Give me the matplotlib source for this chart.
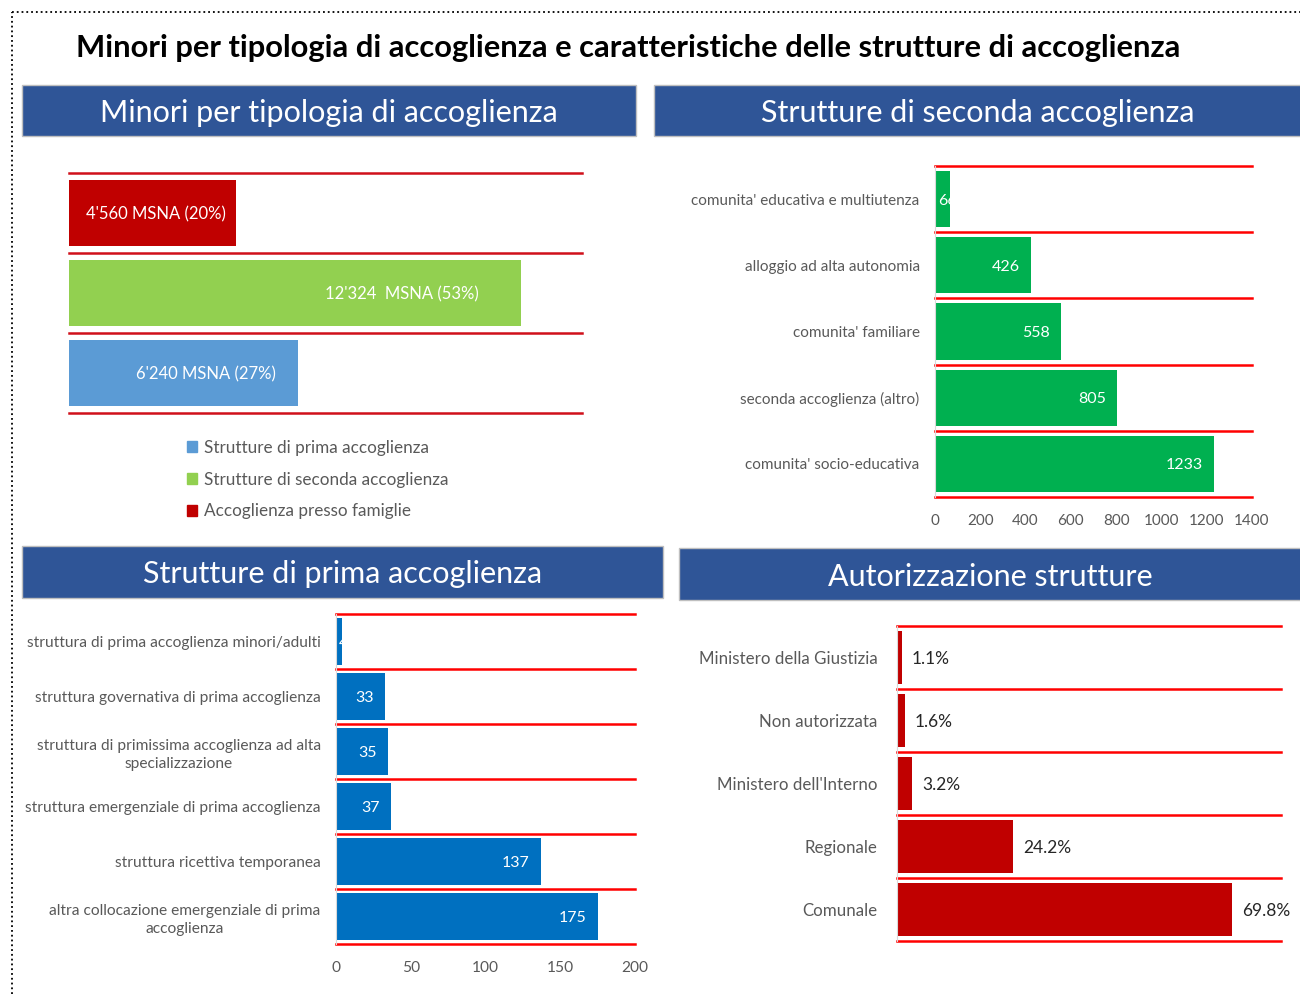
import matplotlib.pyplot as plt
from matplotlib.patches import Rectangle
from matplotlib.lines import Line2D

plt.rcParams['font.family'] = ['Lato', 'DejaVu Sans']

W, H = 1300, 994

# --- data ---
tipologia = ['Accoglienza presso famiglie', 'Strutture di seconda accoglienza',
             'Strutture di prima accoglienza']
tipologia_val = [4560, 12324, 6240]
tipologia_lab = ["4'560 MSNA (20%)", "12'324  MSNA (53%)", "6'240 MSNA (27%)"]

seconda_cat = ["comunita' educativa e multiutenza", 'alloggio ad alta autonomia',
               "comunita' familiare", 'seconda accoglienza (altro)',
               "comunita' socio-educativa"]
seconda_val = [66, 426, 558, 805, 1233]

prima_cat = ['struttura di prima accoglienza minori/adulti',
             'struttura governativa di prima accoglienza',
             'struttura di primissima accoglienza ad alta\nspecializzazione',
             'struttura emergenziale di prima accoglienza',
             'struttura ricettiva temporanea',
             'altra collocazione emergenziale di prima\naccoglienza']
prima_val = [4, 33, 35, 37, 137, 175]

autoriz_cat = ['Ministero della Giustizia', 'Non autorizzata',
               "Ministero dell'Interno", 'Regionale', 'Comunale']
autoriz_val = [1.1, 1.6, 3.2, 24.2, 69.8]

GRAY = '#595959'
HEAD = '#2F5597'


def rect(x0, y0, x1, y1):
    return [x0 / W, 1 - y1 / H, (x1 - x0) / W, (y1 - y0) / H]


def header(x0, y0, x1, y1, text):
    fig.add_artist(Rectangle((x0 / W, 1 - y1 / H), (x1 - x0) / W, (y1 - y0) / H,
                             transform=fig.transFigure, facecolor=HEAD,
                             edgecolor='#BFBFBF', linewidth=1))
    fig.text((x0 + x1) / 2 / W, 1 - (y0 + y1) / 2 / H, text, color='white',
             fontsize=22, ha='center', va='center_baseline')


def style_barh(ax, n, gridcolor='#FF0000'):
    ax.set_ylim(n - 0.5, -0.5)
    for i in range(-1, n):
        ax.axhline(i + 0.5, color=gridcolor, linewidth=1.8, clip_on=False, zorder=0)
    ax.tick_params(which='both', length=0)
    for s in ['top', 'right', 'bottom']:
        ax.spines[s].set_visible(False)
    ax.spines['left'].set_color('#D9D9D9')


def inside_labels(ax, bars, values, xmax, fs):
    ax_w = ax.get_position().width * W
    for b, v in zip(bars, values):
        y = b.get_y() + b.get_height() / 2
        if v / xmax * ax_w < 25:
            t = ax.annotate(str(v), (0, y), xytext=(2, 0), textcoords='offset points',
                            ha='left', va='center_baseline', color='white', fontsize=fs)
        else:
            t = ax.annotate(str(v), (v, y), xytext=(-8, 0), textcoords='offset points',
                            ha='right', va='center_baseline', color='white', fontsize=fs)
        t.set_clip_path(b)


fig = plt.figure(figsize=(13, 9.94), dpi=100)

# dotted frame
fig.add_artist(Line2D([12 / W, 12 / W], [0, 1 - 12 / H], transform=fig.transFigure,
                      color='black', linestyle=':', linewidth=1.3))
fig.add_artist(Line2D([12 / W, 1], [1 - 12 / H, 1 - 12 / H], transform=fig.transFigure,
                      color='black', linestyle=':', linewidth=1.3))

fig.text(628 / W, 1 - 46 / H,
         'Minori per tipologia di accoglienza e caratteristiche delle strutture di accoglienza',
         fontsize=22.2, fontweight='bold', ha='center', va='center_baseline', color='black')

header(22, 85, 636, 136, 'Minori per tipologia di accoglienza')
header(654, 85, 1302, 136, 'Strutture di seconda accoglienza')
header(22, 546, 663, 598, 'Strutture di prima accoglienza')
header(679, 548, 1302, 600, 'Autorizzazione strutture')

# --- top left ---
ax1 = fig.add_axes(rect(69, 173, 582, 413))
cols1 = ['#C00000', '#92D050', '#5B9BD5']
bars = ax1.barh(range(3), tipologia_val, height=0.82, color=cols1)
style_barh(ax1, 3, gridcolor='#D0101A')
ax1.spines['left'].set_visible(False)
ax1.set_xlim(0, 14000)
ax1.set_xticks([])
ax1.set_yticks([])
offsets = [-10, -42, -22]
for b, lab, off in zip(bars, tipologia_lab, offsets):
    ax1.annotate(lab, (b.get_width(), b.get_y() + b.get_height() / 2),
                 xytext=(off * 0.72, 0), textcoords='offset points',
                 ha='right', va='center_baseline', color='white', fontsize=12)
handles = [Rectangle((0, 0), 1, 1, color=cols1[i]) for i in [2, 1, 0]]
fig.legend(handles, [tipologia[i] for i in [2, 1, 0]], loc='upper left',
           bbox_to_anchor=(180 / W, 1 - 433 / H), frameon=False, fontsize=12.3,
           labelcolor=GRAY, handlelength=0.6, handleheight=0.6, handletextpad=0.4,
           labelspacing=0.92, borderaxespad=0)

# --- top right ---
ax2 = fig.add_axes(rect(935, 166, 1252, 497))
bars = ax2.barh(range(5), seconda_val, height=0.85, color='#00B050')
style_barh(ax2, 5)
ax2.set_xlim(0, 1400)
ax2.set_xticks(range(0, 1401, 200))
ax2.set_yticks(range(5))
ax2.set_yticklabels(seconda_cat)
ax2.tick_params(axis='y', pad=11)
ax2.tick_params(axis='x', pad=12)
ax2.tick_params(labelsize=11, labelcolor=GRAY)
inside_labels(ax2, bars, seconda_val, 1400, 11.5)

# --- bottom left ---
ax3 = fig.add_axes(rect(336, 614, 635, 944))
bars = ax3.barh(range(6), prima_val, height=0.84, color='#0070C0')
style_barh(ax3, 6)
ax3.set_xlim(0, 200)
ax3.set_xticks(range(0, 201, 50))
ax3.set_yticks(range(6))
ax3.set_yticklabels(prima_cat, multialignment='center', linespacing=1.35)
ax3.tick_params(axis='y', pad=11)
ax3.tick_params(axis='x', pad=12)
ax3.tick_params(labelsize=11.2, labelcolor=GRAY)
inside_labels(ax3, bars, prima_val, 200, 11.5)

# --- bottom right ---
ax4 = fig.add_axes(rect(897, 626, 1281, 941))
bars = ax4.barh(range(5), autoriz_val, height=0.83, color='#C00000')
style_barh(ax4, 5)
ax4.set_xlim(0, 80)
ax4.set_xticks([])
ax4.set_yticks(range(5))
ax4.set_yticklabels(autoriz_cat)
ax4.tick_params(axis='y', pad=14, labelsize=12.2, labelcolor=GRAY)
for b, v in zip(bars, autoriz_val):
    ax4.annotate(f'{v:.1f}%', (b.get_width(), b.get_y() + b.get_height() / 2),
                 xytext=(7, 0), textcoords='offset points',
                 ha='left', va='center_baseline', color='#262626', fontsize=12.5)

fig.savefig('out.png', dpi=100)
